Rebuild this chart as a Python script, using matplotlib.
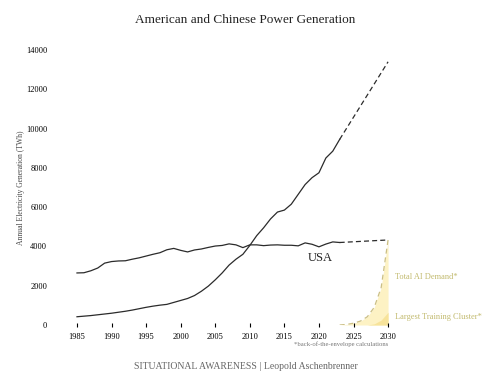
import matplotlib
matplotlib.use("Agg")
import matplotlib.pyplot as plt

years = list(range(1985, 2024))
usa = [2650, 2660, 2760, 2900, 3150, 3230, 3260, 3270, 3350, 3420,
       3510, 3600, 3680, 3830, 3900, 3800, 3720, 3820, 3870, 3950,
       4020, 4050, 4130, 4080, 3940, 4080, 4080, 4040, 4070, 4080,
       4060, 4060, 4030, 4180, 4110, 3980, 4120, 4230, 4200]
china = [420, 450, 480, 520, 560, 600, 650, 700, 760, 830,
         900, 960, 1010, 1050, 1150, 1250, 1350, 1500, 1720, 1980,
         2300, 2650, 3050, 3350, 3600, 4050, 4550, 4950, 5400, 5750,
         5850, 6150, 6650, 7150, 7500, 7750, 8500, 8850, 9450]

proj_years = [2023, 2030]
usa_proj = [4200, 4330]
china_proj = [9450, 13400]

ai_years = [2023, 2024, 2025, 2026, 2027, 2028, 2029, 2030]
ai_demand = [0, 30, 90, 200, 420, 900, 1900, 4330]
cluster_years = [2027, 2028, 2029, 2030]
cluster = [0, 60, 250, 650]

xticks = [1985, 1990, 1995, 2000, 2005, 2010, 2015, 2020, 2025, 2030]
yticks = [0, 2000, 4000, 6000, 8000, 10000, 12000, 14000]

plt.rcParams['font.family'] = ['Liberation Serif', 'DejaVu Serif']

fig = plt.figure(figsize=(5.02, 3.87), dpi=100)
ax = fig.add_axes([0.1327, 0.1602, 0.661, 0.7106])

ax.fill_between(ai_years, 0, ai_demand, color='#fdf2c4', lw=0)
ax.fill_between(cluster_years, 0, cluster, color='#f7e39a', lw=0)
ax.plot(ai_years, ai_demand, color='#cbbf85', lw=0.9, ls=(0, (4, 3)))

ax.plot(years, usa, color='#2b2b2b', lw=0.9)
ax.plot(years, china, color='#2b2b2b', lw=0.9)
ax.plot(proj_years, usa_proj, color='#2b2b2b', lw=0.9, ls=(0, (4, 2.5)))
ax.plot(proj_years, china_proj, color='#2b2b2b', lw=0.9, ls=(0, (4, 2.5)))

ax.text(2020.2, 3400, 'USA', fontsize=9, ha='center', va='center', color='#222222')
ax.text(2031, 2450, 'Total AI Demand*', fontsize=6, color='#c2ba6e', va='center')
ax.text(2031, 400, 'Largest Training Cluster*', fontsize=6, color='#c2ba6e', va='center')
ax.text(2030, -1000, '*back-of-the-envelope calculations', fontsize=4.8,
        color='#777777', ha='right', va='center')

ax.set_xlim(1983.5, 2031.5)
ax.set_ylim(0, 14000)
ax.set_xticks(xticks)
ax.set_yticks(yticks)
ax.set_yticklabels([str(v) for v in yticks])
ax.tick_params(axis='x', direction='inout', length=3, width=0.8, labelsize=6, pad=4)
ax.tick_params(axis='y', length=0, labelsize=6, pad=14)
for s in ax.spines.values():
    s.set_visible(False)
ax.set_ylabel('Annual Electricity Generation (TWh)', fontsize=5.5, color='#444444', labelpad=1)

fig.text(0.488, 0.948, 'American and Chinese Power Generation', fontsize=9.5,
         ha='center', va='center', color='#222222')
fig.text(0.49, 0.054, 'SITUATIONAL AWARENESS | Leopold Aschenbrenner', fontsize=7,
         ha='center', va='center', color='#666666')

fig.savefig('out.png', dpi=100)
